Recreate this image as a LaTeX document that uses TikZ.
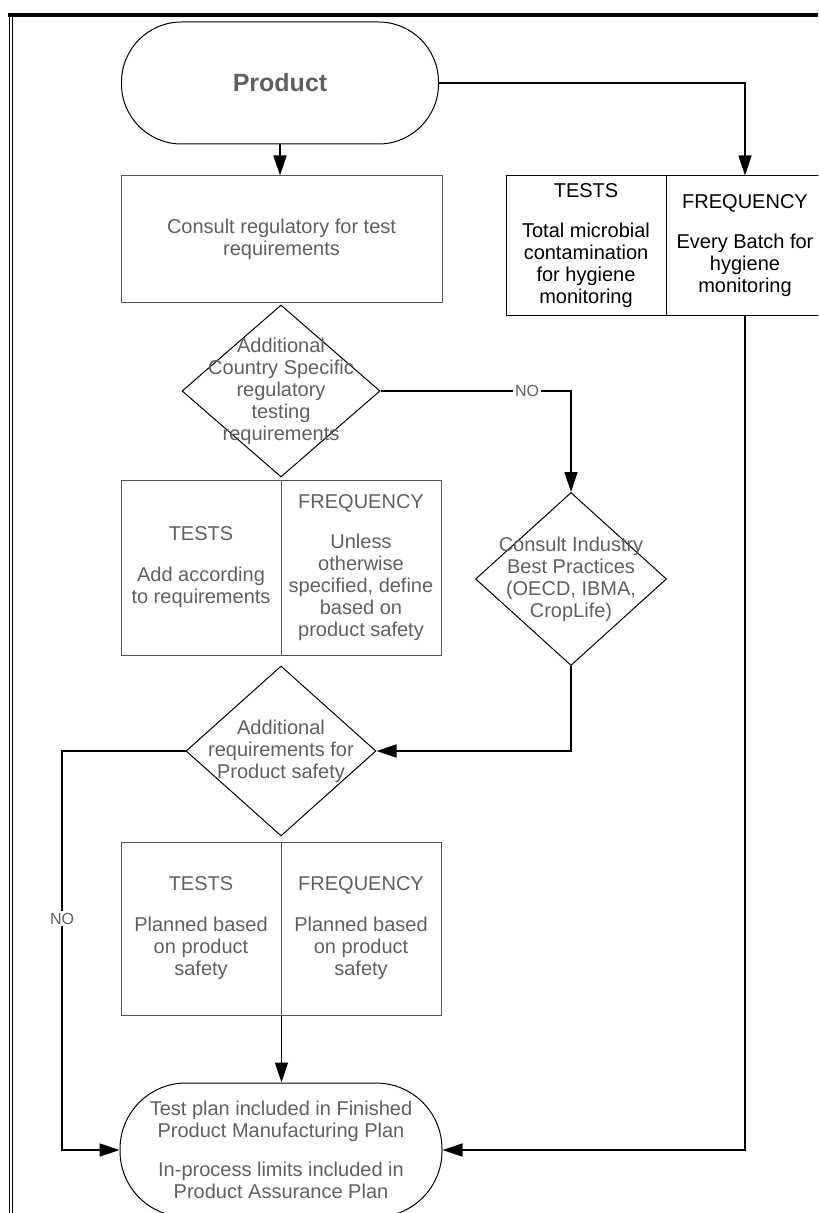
\documentclass[tikz,border=0pt]{standalone}
\usepackage{fontspec}
\setmainfont{Liberation Sans}
\usepackage{tikz}
\usetikzlibrary{shapes.geometric,arrows.meta}
\definecolor{txtgrey}{RGB}{96,96,96}
\definecolor{boxgrey}{RGB}{85,85,85}

\begin{document}
\begin{tikzpicture}[x=0.5pt,y=-0.5pt,
	every node/.style={font=\fontsize{10}{11}\selectfont, align=center, inner sep=0pt},
	term/.style={draw, line width=0.5pt, rectangle, rounded corners=#1, text=txtgrey},
	box/.style={draw=boxgrey, line width=0.5pt, minimum width=80pt, text=txtgrey},
	decision/.style={draw, diamond, line width=0.5pt},
	flow/.style={line width=0.75pt, -{Triangle[length=10pt,width=6.5pt]}},
	nolabel/.style={fill=white, text=txtgrey, font=\fontsize{8}{9}\selectfont, inner sep=1pt}]
	%\draw[help lines] (0,0) grid[step=50] (818,1213);
	\useasboundingbox (0,0) rectangle (818,1213);
	\clip (0,0) rectangle (818,1213);
	\draw[line width=2pt] (8,14.7) -- (818,14.7);
	\draw[line width=0.5pt] (9.5,14) -- (9.5,1213) (12.5,14) -- (12.5,1213);

	\node[term=30pt, minimum width=158.5pt, minimum height=61pt, font=\fontsize{12.5}{14}\selectfont\bfseries] (prod) at (280,83) {Product};
	\node[box, minimum width=160.5pt, minimum height=63.5pt] (consult) at (281.5,239.5) {Consult regulatory for test\\requirements};
	\node[decision, minimum width=99pt, minimum height=86pt] (q1) at (281,391) {};
	\node[text=txtgrey] (q1t) at (q1) {Additional\\Country Specific\\regulatory\\testing\\requirements};
	\node[box, minimum height=87.5pt] (tests2) at (201,567.5) {TESTS\\[9.5pt]Add according\\to requirements};
	\node[box, minimum height=87.5pt] (freq2) at (361,567.5) {FREQUENCY\\[9pt]Unless\\otherwise\\specified, define\\based on\\product safety};
	\node[decision, minimum width=95.5pt, minimum height=86.5pt] (q2) at (571,579) {};
	\node[text=txtgrey] (q2t) at (q2) {Consult Industry\\Best Practices\\(OECD, IBMA,\\CropLife)};
	\node[decision, minimum width=95pt, minimum height=85pt] (q3) at (281,751) {};
	\node[text=txtgrey] (q3t) at (q3) {Additional\\requirements for\\Product safety};
	\node[box, minimum height=86.5pt] (tests3) at (201,928.5) {TESTS\\[9.5pt]Planned based\\on product\\safety};
	\node[box, minimum height=86.5pt] (freq3) at (361,928.5) {FREQUENCY\\[9.5pt]Planned based\\on product\\safety};

	% right column
	\node[box, draw=black, text=black, minimum height=70pt] (tests1) at (586,246) {TESTS\\[9pt]Total microbial\\contamination\\for hygiene\\monitoring};
	\node[box, draw=black, text=black, minimum width=79pt, minimum height=70pt] (freq1) at (745,246) {FREQUENCY\\[9pt]Every Batch for\\hygiene\\monitoring};

	\node[term=33pt, minimum width=161pt, minimum height=67pt] (plan) at (281,1150) {Test plan included in Finished\\Product Manufacturing Plan\\[8.5pt]In-process limits included in\\Product Assurance Plan};

	\draw[flow] (prod.south) -- (prod.south |- consult.north);
	\draw[flow] (prod.east) -| (freq1.north);
	\draw[flow] (q1.east) -- node[nolabel, pos=0.77] {NO} (q1.east -| q2.north) -- (q2.north);
	\draw[flow] (q2.south) |- (q3.east);
	\coordinate (noturn) at (62,751);
	\draw[flow] (q3.west) -- (noturn) |- node[nolabel, pos=0.21] {NO} (plan.west);
	\draw[flow] (tests3.south east) -- (tests3.south east |- plan.north);
	\draw[flow] (freq1.south) |- (plan.east);
\end{tikzpicture}
\end{document}
